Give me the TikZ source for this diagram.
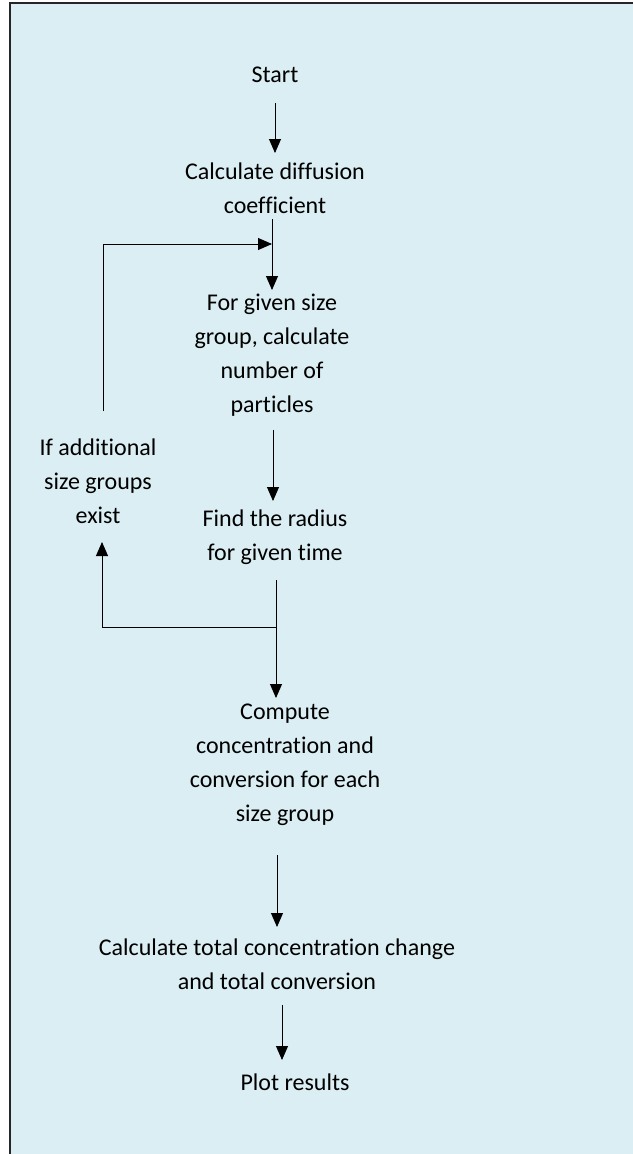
\documentclass[tikz,border=0pt]{standalone}
\usepackage{fontspec}
\setmainfont{Carlito}[Ligatures={NoCommon}]
\usetikzlibrary{arrows.meta,calc}
\definecolor{bgblue}{HTML}{DAEEF3}
\tikzset{
  lbl/.style={align=center, inner sep=0pt, font=\fontsize{24}{34}\selectfont},
  arr/.style={line width=0.9pt, -{Triangle[width=12pt,length=14pt]}},
  ln/.style={line width=0.9pt}
}
\begin{document}
\begin{tikzpicture}[x=1pt,y=-1pt]
\useasboundingbox (0,0) rectangle (632,1154);
\fill[bgblue] (10,3) rectangle (640,1160);
\draw[line width=1.5pt, black!85] (10,1160) -- (10,3) -- (640,3);

\node[lbl] (start) at (275,75) {Start};
\node[lbl] (diff) at (275,188) {Calculate diffusion\\coefficient};
\node[lbl] (forg) at (272,355) {For given size\\group, calculate\\number of\\particles};
\node[lbl] (find) at (275,537.5) {Find the radius\\for given time};
\node[lbl] (ifadd) at (98,481) {If additional\\size groups\\exist};
\node[lbl] (comp) at (285,764.5) {Compute\\concentration and\\conversion for each\\size group};
\node[lbl] (total) at (277,964) {Calculate total concentration change\\and total conversion};
\node[lbl] (plot) at (295,1082) {Plot results};

\coordinate (j1) at (272,244);
\coordinate (j2) at (276,627);

\draw[arr] ($(start)+(0,28)$) -- ($(diff)+(0,-35)$);
\draw[arr] ($(diff)+(-3,31)$) -- ($(forg)+(0,-65)$);
\draw[arr] ($(ifadd)+(5,-70)$) |- (j1);
\draw[arr] ($(forg)+(1,75)$) -- ($(find)+(-2,-36.5)$);
\draw[arr] ($(find)+(1,42.5)$) -- ($(comp)+(-9,-66.5)$);
\draw[arr] (j2) -| ($(ifadd)+(4,61)$);
\draw[arr] ($(comp)+(-8,90.5)$) -- ($(total)+(0,-37)$);
\draw[arr] ($(total)+(5,41)$) -- ($(plot)+(-13,-22)$);
\end{tikzpicture}
\end{document}
